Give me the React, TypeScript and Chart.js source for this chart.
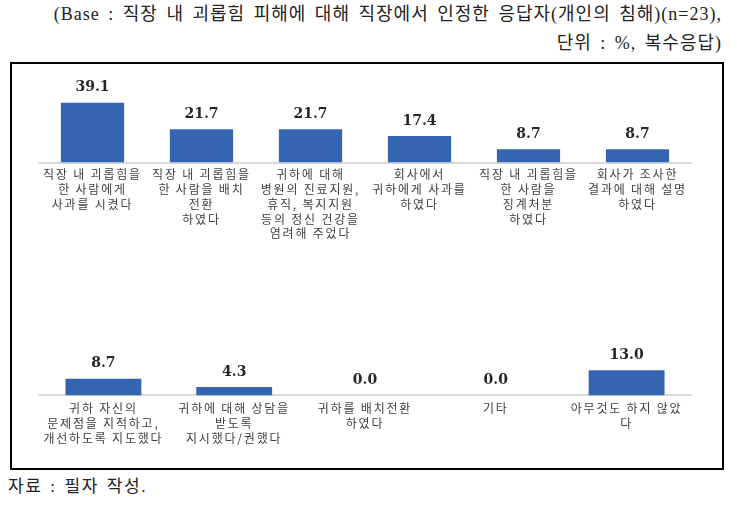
import React, { useEffect, useRef } from "react";
import { Chart, registerables } from "chart.js";

Chart.register(...registerables);

const topCategories: string[][] = [
  ["직장 내 괴롭힘을", "한 사람에게", "사과를 시켰다"],
  ["직장 내 괴롭힘을", "한 사람을 배치", "전환", "하였다"],
  ["귀하에 대해", "병원의 진료지원,", "휴직, 복지지원", "등의 정신 건강을", "염려해 주었다"],
  ["회사에서", "귀하에게 사과를", "하였다"],
  ["직장 내 괴롭힘을", "한 사람을", "징계처분", "하였다"],
  ["회사가 조사한", "결과에 대해 설명", "하였다"],
];
const topValues: number[] = [39.1, 21.7, 21.7, 17.4, 8.7, 8.7];

const bottomCategories: string[][] = [
  ["귀하 자신의", "문제점을 지적하고,", "개선하도록 지도했다"],
  ["귀하에 대해 상담을", "받도록", "지시했다/권했다"],
  ["귀하를 배치전환", "하였다"],
  ["기타"],
  ["아무것도 하지 않았", "다"],
];
const bottomValues: number[] = [8.7, 4.3, 0.0, 0.0, 13.0];

const headerLine1 = "(Base : 직장 내 괴롭힘 피해에 대해 직장에서 인정한 응답자(개인의 침해)(n=23),";
const headerLine2 = "단위 : %, 복수응답)";
const footerText = "자료 : 필자 작성.";

const BAR_COLOR = "#3565B0";

const letterSpacingPlugin = {
  id: "letterSpacing",
  beforeDraw(chart: any) {
    (chart.ctx as any).letterSpacing = "1.8px";
  },
};

const valueLabelPlugin = {
  id: "valueLabels",
  afterDatasetsDraw(chart: any) {
    const ctx = chart.ctx;
    const meta = chart.getDatasetMeta(0);
    const data = chart.data.datasets[0].data as number[];
    ctx.save();
    (ctx as any).letterSpacing = "0px";
    ctx.font = "bold 14px 'DejaVu Serif'";
    ctx.fillStyle = "#262626";
    ctx.textAlign = "center";
    ctx.textBaseline = "middle";
    meta.data.forEach((el: any, i: number) => {
      ctx.fillText(data[i].toFixed(1), el.x, el.y - 15);
    });
    ctx.restore();
  },
};

function BarPanel(props: {
  labels: string[][];
  values: number[];
  max: number;
  padTop: number;
  padBottom: number;
  tickPad: number;
  width: number;
  height: number;
  left: number;
  top: number;
}) {
  const ref = useRef<HTMLCanvasElement | null>(null);
  useEffect(() => {
    if (!ref.current) return;
    const chart = new Chart(ref.current, {
      type: "bar",
      data: {
        labels: props.labels,
        datasets: [
          {
            data: props.values,
            backgroundColor: BAR_COLOR,
            barPercentage: 0.58,
            categoryPercentage: 1.0,
          },
        ],
      },
      options: {
        animation: false,
        responsive: false,
        devicePixelRatio: 1,
        layout: { padding: { top: props.padTop, bottom: props.padBottom, left: 0, right: 0 } },
        plugins: { legend: { display: false }, tooltip: { enabled: false } },
        scales: {
          x: {
            grid: { display: false, drawTicks: false },
            border: { display: true, color: "#d9d9d9", width: 2 },
            ticks: {
              autoSkip: false,
              maxRotation: 0,
              minRotation: 0,
              padding: props.tickPad,
              color: "#404040",
              font: { family: "'Noto Sans CJK KR'", size: 12, lineHeight: "14.7px" },
            },
          },
          y: {
            display: false,
            min: 0,
            max: props.max,
          },
        },
      },
      plugins: [letterSpacingPlugin, valueLabelPlugin],
    } as any);
    return () => chart.destroy();
  }, []);
  return (
    <canvas
      ref={ref}
      width={props.width}
      height={props.height}
      style={{
        position: "absolute",
        left: props.left,
        top: props.top,
        width: props.width,
        height: props.height,
      }}
    />
  );
}

export default function App() {
  const serif = "'Liberation Serif', 'Noto Sans CJK KR', serif";
  const headStyle: React.CSSProperties = {
    position: "absolute",
    right: 15,
    fontFamily: serif,
    fontSize: 18,
    lineHeight: "22px",
    color: "#222",
    whiteSpace: "nowrap",
    letterSpacing: 1.0,
    wordSpacing: 3,
  };
  return (
    <div
      style={{
        position: "fixed",
        left: 0,
        top: 0,
        width: 737,
        height: 507,
        background: "#fff",
        overflow: "hidden",
      }}
    >
      <div style={{ ...headStyle, top: 3 }}>{headerLine1}</div>
      <div style={{ ...headStyle, top: 32 }}>{headerLine2}</div>
      <div
        style={{
          position: "absolute",
          left: 10,
          top: 62,
          width: 710,
          height: 404,
          border: "2px solid #000",
        }}
      />
      <BarPanel
        labels={topCategories}
        values={topValues}
        max={54}
        padTop={13}
        padBottom={4}
        tickPad={5}
        width={654}
        height={182}
        left={38}
        top={67}
      />
      <BarPanel
        labels={bottomCategories}
        values={bottomValues}
        max={35}
        padTop={20}
        padBottom={6.5}
        tickPad={6}
        width={654}
        height={150}
        left={38}
        top={308}
      />
      <div
        style={{
          position: "absolute",
          left: 8,
          top: 476,
          fontFamily: serif,
          fontSize: 17,
          lineHeight: "22px",
          color: "#222",
          whiteSpace: "nowrap",
          letterSpacing: 1.6,
          wordSpacing: 2,
        }}
      >
        {footerText}
      </div>
    </div>
  );
}
